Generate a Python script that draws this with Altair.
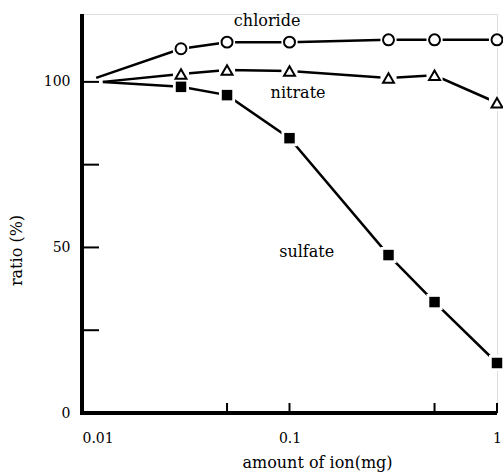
import altair as alt
import pandas as pd

# ---- data ----
chl_x = [0.0117, 0.03, 0.05, 0.1, 0.3, 0.5, 1.0]
chl_y = [101.2, 110.0, 112.0, 112.0, 112.7, 112.7, 112.7]
nit_x = [0.0126, 0.03, 0.05, 0.1, 0.3, 0.5, 1.0]
nit_y = [100.0, 102.4, 103.6, 103.3, 101.2, 102.0, 93.7]
sul_x = [0.0126, 0.03, 0.05, 0.1, 0.3, 0.5, 1.0]
sul_y = [100.0, 98.5, 96.0, 83.0, 47.7, 33.5, 15.1]

label_names = ["chloride", "nitrate", "sulfate"]
label_x = [0.078, 0.110, 0.121]
label_y = [118.4, 96.7, 48.6]

y_tick_values = [25, 50, 75, 100]
x_tick_values = [0.05, 0.1, 0.5, 1.0]

FONT = "DejaVu Serif"
W, H = 415, 399
XD = [0.01, 1.0]
YD = [0, 120.5]

rows = []
for name, xs_, ys_ in [("chloride", chl_x, chl_y), ("nitrate", nit_x, nit_y), ("sulfate", sul_x, sul_y)]:
    for i, (x, y) in enumerate(zip(xs_, ys_)):
        rows.append({"series": name, "x": x, "y": y, "i": i, "marker": i > 0})
df = pd.DataFrame(rows)
mk = df[df["marker"]]

xs = alt.Scale(type="log", domain=XD)
ys = alt.Scale(domain=YD)

xenc = alt.X("x:Q", scale=xs, axis=alt.Axis(
    values=[0.01, 0.1, 1.0], tickSize=0, grid=False, domain=False,
    labelExpr="datum.value < 0.05 ? '0.01' : (datum.value < 0.5 ? '0.1' : '1')",
    labelAlign=alt.expr("datum.value < 0.05 ? 'left' : 'center'"),
    labelFlush=False, labelPadding=18, labelFontSize=14, labelFont=FONT, labelColor="black",
    title="amount of ion(mg)", titleFont=FONT, titleFontSize=16, titleFontWeight="normal",
    titleColor="black", titleX=235, titleY=49, titleBaseline="middle", titleAnchor="middle",
    titleAlign="center"))
yenc = alt.Y("y:Q", scale=ys, axis=alt.Axis(
    values=[0, 50, 100], tickSize=0, grid=False, domain=False,
    labelPadding=12, labelFontSize=14, labelFont=FONT, labelColor="black",
    title="ratio (%)", titleFont=FONT, titleFontSize=16, titleFontWeight="normal",
    titleColor="black", titleX=-66, titleY=236, titleBaseline="middle", titleAlign="center",
    titleAngle=270))

lines = alt.Chart(df).mark_line(color="black", strokeWidth=2.5).encode(
    x=xenc, y=yenc, detail="series:N", order="i:Q")

halo = alt.Chart(mk).mark_point(filled=True, color="white", size=260, shape="square", opacity=1).encode(
    x=alt.X("x:Q", scale=xs), y=alt.Y("y:Q", scale=ys))

circ = alt.Chart(mk[mk["series"] == "chloride"]).mark_point(
    shape="circle", filled=True, fill="white", stroke="black", strokeWidth=2, size=120, opacity=1).encode(
    x=alt.X("x:Q", scale=xs), y=alt.Y("y:Q", scale=ys))
tri = alt.Chart(mk[mk["series"] == "nitrate"]).mark_point(
    shape="triangle-up", filled=True, fill="white", stroke="black", strokeWidth=2, size=120, opacity=1).encode(
    x=alt.X("x:Q", scale=xs), y=alt.Y("y:Q", scale=ys))
sq = alt.Chart(mk[mk["series"] == "sulfate"]).mark_point(
    shape="square", filled=True, color="black", size=110, opacity=1).encode(
    x=alt.X("x:Q", scale=xs), y=alt.Y("y:Q", scale=ys))

ytick_df = pd.DataFrame({"y": y_tick_values})
yticks = alt.Chart(ytick_df).mark_rule(color="black", strokeWidth=2).encode(
    y=alt.Y("y:Q", scale=ys), x=alt.value(0), x2=alt.value(17))
xtick_df = pd.DataFrame({"x": x_tick_values})
xticks = alt.Chart(xtick_df).mark_rule(color="black", strokeWidth=2).encode(
    x=alt.X("x:Q", scale=xs), y=alt.value(H), y2=alt.value(H - 10))

# axis lines (thick, as in the scanned figure)
yaxis_line = alt.Chart(ytick_df).mark_rule(color="black", strokeWidth=3.5).encode(
    x=alt.value(0), y=alt.value(0), y2=alt.value(H + 1.5))
xaxis_line = alt.Chart(xtick_df).mark_rule(color="black", strokeWidth=4).encode(
    y=alt.value(H), x=alt.value(-1.5), x2=alt.value(W))

lab_df = pd.DataFrame({"name": label_names, "x": label_x, "y": label_y})
labels = alt.Chart(lab_df).mark_text(font=FONT, fontSize=16, color="black", align="center",
                                     baseline="middle").encode(
    x=alt.X("x:Q", scale=xs), y=alt.Y("y:Q", scale=ys), text="name:N")

chart = alt.layer(lines, halo, circ, tri, sq, yticks, xticks, yaxis_line, xaxis_line, labels).properties(
    width=W, height=H,
    autosize=alt.AutoSizeParams(type="none"),
    padding={"left": 82, "top": 14, "right": 6, "bottom": 60},
).configure_view(stroke=None).configure(background="white")

chart.save("out.html", embed_options={"renderer": "svg", "actions": False})
